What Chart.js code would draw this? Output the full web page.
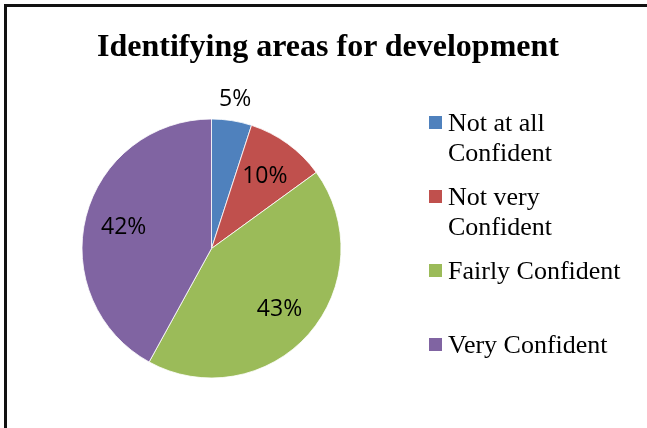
<!DOCTYPE html>
<html>
<head>
<meta charset="utf-8">
<script src="https://cdn.jsdelivr.net/npm/chart.js@4.4.0/dist/chart.umd.min.js"></script>
<style>
  html, body { margin: 0; padding: 0; background: #fff; }
  body { width: 647px; height: 428px; position: relative; overflow: hidden; }
  #chartBox { position: absolute; left: 0; top: 0; width: 647px; height: 428px; }
  .frame {
    position: absolute; left: 4px; top: 4px; width: 700px; height: 500px;
    border-left: 3px solid #111; border-top: 3px solid #111;
  }
  .title {
    position: absolute; left: 28px; top: 25px; width: 600px; text-align: center;
    white-space: nowrap; font: bold 32px/40px "Liberation Serif", "Times New Roman", serif; color: #000;
  }
  #legend { position: absolute; left: 429px; top: 108px; }
  .legend-item { position: relative; height: 74px; padding-left: 19px;
    font: 26px/30px "Liberation Serif", "Times New Roman", serif; color: #000; white-space: nowrap; }
  .legend-item .box { position: absolute; left: 0; top: 8px; width: 13px; height: 13px; }
</style>
</head>
<body>
<div id="chartBox"><canvas id="pieChart" width="647" height="428"></canvas></div>
<div class="frame"></div>
<div class="title" id="chartTitle"></div>
<div id="legend"></div>

<script>
const chartTitle = "Identifying areas for development";
const categories = [["Not at all", "Confident"], ["Not very", "Confident"], ["Fairly Confident"], ["Very Confident"]];
const percentages = [5, 10, 43, 42];
const sliceColors = ["#4F81BD", "#C0504D", "#9BBB59", "#8064A2"];

document.getElementById("chartTitle").textContent = chartTitle;

const legend = document.getElementById("legend");
legend.innerHTML = categories.map((lines, i) => `
  <div class="legend-item">
    <span class="box" style="background:${sliceColors[i]}"></span>
    ${lines.join("<br>")}
  </div>
`).join("");

// percentage labels: inside the slice, small slices go outside
const sliceLabels = {
  id: "sliceLabels",
  afterDatasetsDraw(chart) {
    const { ctx } = chart;
    const meta = chart.getDatasetMeta(0);
    ctx.save();
    ctx.font = '23px "Open Sans", sans-serif';
    ctx.fillStyle = "#000";
    ctx.textAlign = "center";
    ctx.textBaseline = "middle";
    meta.data.forEach((arc, i) => {
      const p = arc.getProps(["x", "y", "startAngle", "endAngle", "outerRadius"], true);
      const mid = (p.startAngle + p.endAngle) / 2;
      const value = chart.data.datasets[0].data[i];
      const r = value < 8 ? p.outerRadius * 1.17 : p.outerRadius * 0.7;
      ctx.fillText(value + "%", p.x + Math.cos(mid) * r, p.y + Math.sin(mid) * r + 1);
    });
    ctx.restore();
  }
};

new Chart(document.getElementById("pieChart"), {
  type: "pie",
  data: {
    labels: categories.map(l => l.join(" ")),
    datasets: [{
      data: percentages,
      backgroundColor: sliceColors,
      borderColor: "#ffffff",
      borderWidth: 0.8
    }]
  },
  options: {
    responsive: false,
    animation: false,
    radius: 129.5,
    layout: { padding: { left: 0, right: 224, top: 69, bottom: 0 } },
    plugins: {
      legend: { display: false },
      title: { display: false },
      tooltip: { enabled: false }
    }
  },
  plugins: [sliceLabels]
});
</script>
</body>
</html>
